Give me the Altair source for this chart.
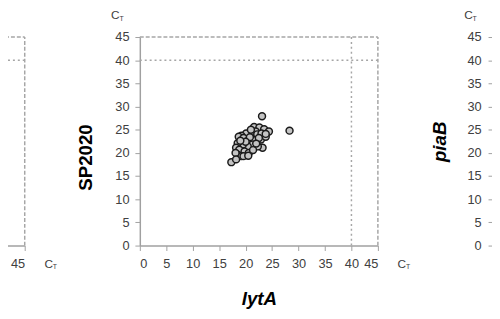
import altair as alt
import pandas as pd

# ---- data ----
lytA = [23.1, 21.6, 22.6, 23.5, 24.4, 21.9, 21.0, 20.1, 19.2, 18.7,
        19.6, 20.6, 21.6, 22.9, 23.8, 23.2, 22.3, 21.3, 20.4, 19.5,
        18.5, 18.2, 18.8, 19.8, 20.6, 18.5, 19.2, 18.1, 17.3, 18.2,
        19.6, 28.3, 20.8, 22.2, 21.4, 20.0, 23.0, 22.5, 19.0, 21.0,
        22.0, 20.5, 23.8]
sp2020 = [27.9, 25.6, 25.5, 25.1, 24.6, 24.6, 24.2, 24.2, 23.7, 23.5,
          23.2, 22.8, 22.8, 22.9, 23.5, 21.1, 21.4, 21.8, 21.4, 21.8,
          22.1, 21.1, 20.7, 20.3, 20.0, 19.6, 19.3, 20.0, 18.0, 18.6,
          19.3, 24.8, 23.4, 24.0, 20.6, 22.4, 24.2, 23.2, 22.6, 25.0,
          22.0, 19.4, 24.1]
ticks = [0, 5, 10, 15, 20, 25, 30, 35, 40, 45]
left_ticks = [40, 45]
cutoff_ct = 40
max_ct = 45

pts = pd.DataFrame({"lytA": lytA, "SP2020": sp2020})
lines = pd.DataFrame({
    "x1": [0, max_ct, 0, cutoff_ct],
    "x2": [max_ct, max_ct, max_ct, cutoff_ct],
    "y1": [max_ct, 0, cutoff_ct, 0],
    "y2": [max_ct, max_ct, cutoff_ct, max_ct],
    "kind": ["max", "max", "cutoff", "cutoff"],
})

W, H = 242, 212
PERIOD = 359
FONT = "Liberation Sans"
GRAY = "#a0a0a0"


def xscale(shift):
    return alt.Scale(domain=[0, 45], nice=False, range=[shift, shift + W])


yscale = alt.Scale(domain=[0, 45], nice=False)

AX = dict(grid=False, domainColor=GRAY, domainWidth=1.5,
          tickColor=GRAY, tickWidth=1, tickSize=5, labelColor="#404040",
          labelFont=FONT, labelFontSize=13, titleFont=FONT,
          titleFontWeight="bold", titleFontSize=19, titleColor="#000000")


def rules(shift, xaxis, yaxis):
    return alt.Chart(lines).mark_rule(color="#a6a6a6", strokeWidth=1.5).encode(
        x=alt.X("x1:Q", scale=xscale(shift), axis=xaxis),
        x2="x2:Q",
        y=alt.Y("y1:Q", scale=yscale, axis=yaxis),
        y2="y2:Q",
        strokeDash=alt.StrokeDash("kind:N", scale=alt.Scale(
            domain=["max", "cutoff"], range=[[4, 2], [2, 3]]), legend=None),
    )


middle_rules = rules(0, None, None)
left_rules = rules(-PERIOD, alt.Axis(orient="bottom", title=None, values=left_ticks,
                                     labelPadding=7, **AX), None)
right_rules = rules(PERIOD, None, alt.Axis(
    orient="left", offset=-PERIOD, title="piaB", titleFontStyle="italic",
    titleAngle=270, titleX=-54.5, titleY=106, titleBaseline="middle",
    titleAlign="center", labelPadding=7, values=ticks, **AX))

points = alt.Chart(pts).mark_circle(
    size=50, color="#c4c4c4", stroke="#1a1a1a", strokeWidth=1.5, opacity=1
).encode(
    x=alt.X("lytA:Q", scale=xscale(0), axis=alt.Axis(
        orient="bottom", title="lytA", titleFontStyle="italic", titleX=121,
        titleY=60, titleBaseline="alphabetic", titleAlign="center",
        labelPadding=7, values=ticks, **AX)),
    y=alt.Y("SP2020:Q", scale=yscale, axis=alt.Axis(
        orient="left", title="SP2020", titleAngle=270, titleX=-55,
        titleY=122, titleBaseline="middle", titleAlign="center",
        labelPadding=6, values=ticks, **AX)),
)


def ct(xc, yc):
    one = pd.DataFrame({"t": ["C"]})
    c = alt.Chart(one).mark_text(text="C", font=FONT, fontSize=12, align="left",
                                 baseline="alphabetic", color="#404040").encode(
        x=alt.value(xc), y=alt.value(yc))
    t = alt.Chart(one).mark_text(text="T", font=FONT, fontSize=7, align="left",
                                 baseline="alphabetic", color="#404040").encode(
        x=alt.value(xc + 8.6), y=alt.value(yc + 1.8))
    return [c, t]


ct_layers = (ct(-29.3, -18) + ct(262, 234.5) + ct(262 - PERIOD, 234.5)
             + ct(-29.3 + PERIOD, -18))

chart = alt.layer(middle_rules, left_rules, right_rules, points, *ct_layers).resolve_scale(
    x="independent", y="independent"
).properties(
    width=W, height=H,
    autosize=alt.AutoSizeParams(type="none"),
    padding={"left": 134, "top": 27, "right": 116, "bottom": 64},
).configure_view(stroke="transparent")

chart.save("out.html", embed_options={"renderer": "svg", "actions": False})
